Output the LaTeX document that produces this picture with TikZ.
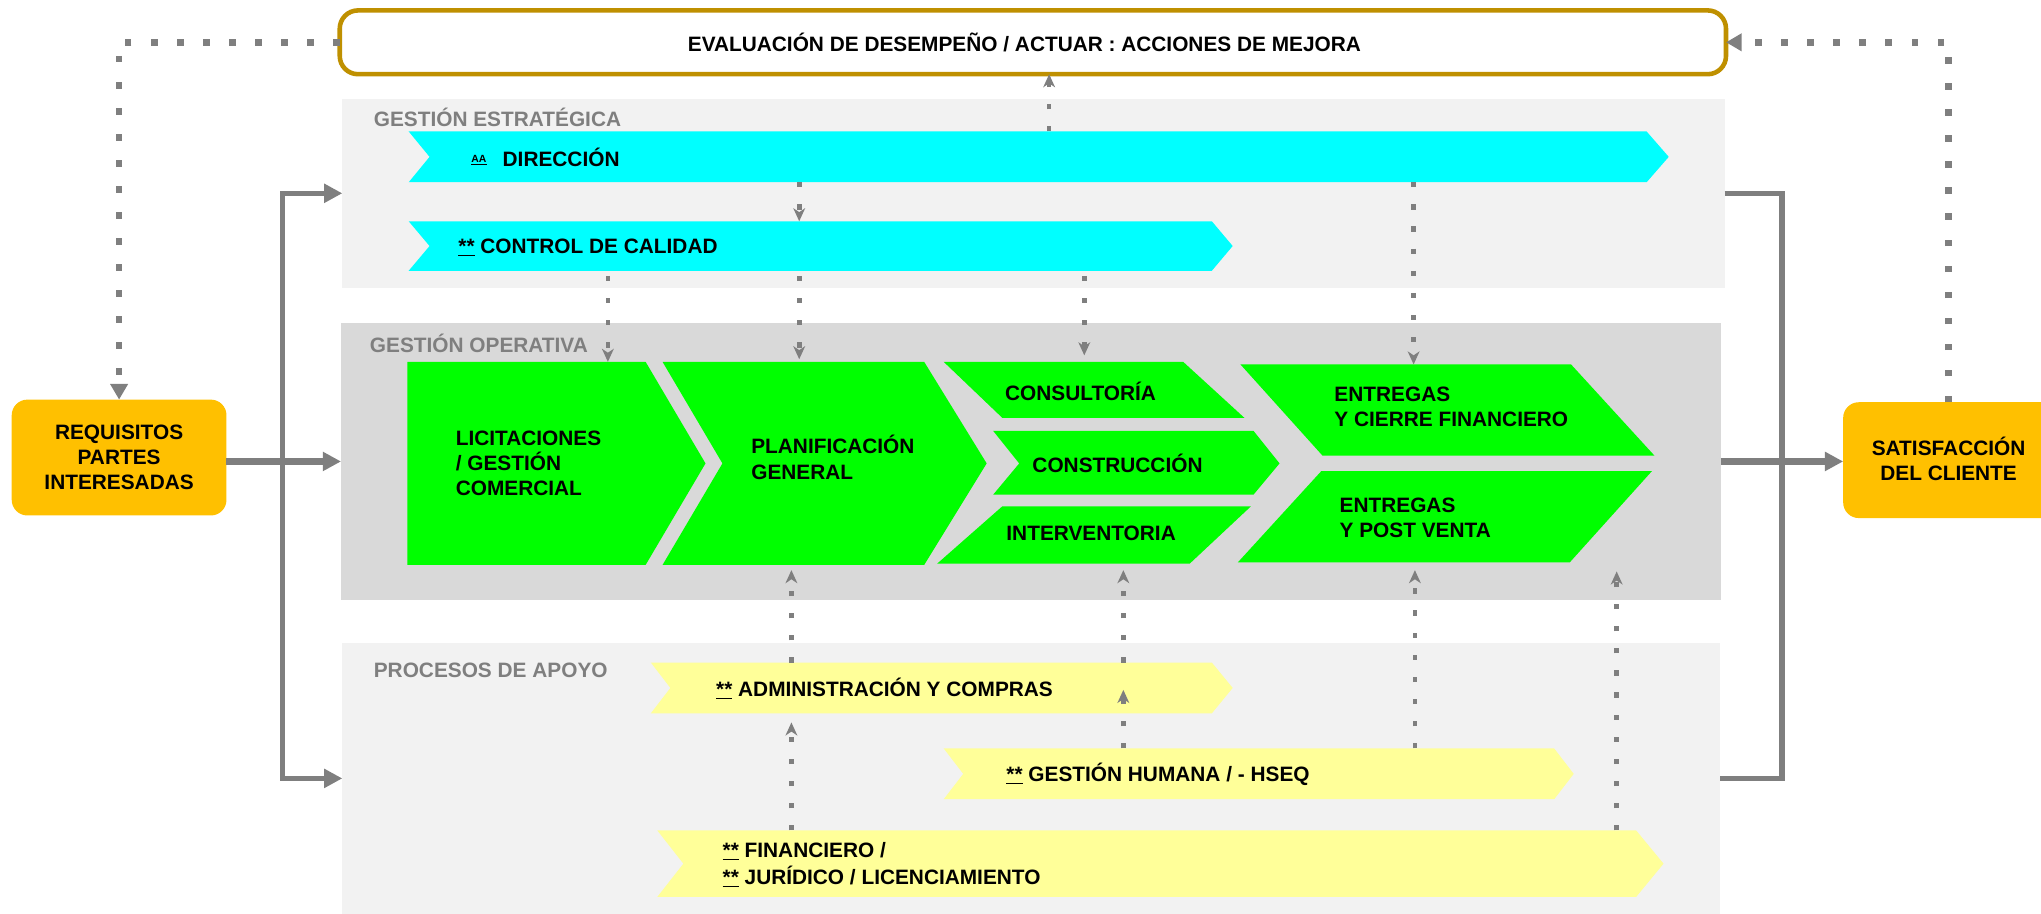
\documentclass[tikz,border=0pt]{standalone}
\usepackage{fontspec}
\setmainfont{Liberation Sans}
\usetikzlibrary{arrows.meta,fit,calc}
\definecolor{goldb}{HTML}{BF9000}
\definecolor{cyanb}{HTML}{00FFFF}
\definecolor{greenb}{HTML}{00FF00}
\definecolor{yellowb}{HTML}{FFFF99}
\definecolor{orangeb}{HTML}{FFC000}
\definecolor{bandlight}{HTML}{F2F2F2}
\definecolor{banddark}{HTML}{D9D9D9}
\definecolor{grayline}{HTML}{7F7F7F}
\begin{document}
\begin{tikzpicture}[x=1pt,y=-1pt,
  bb/.style={inner sep=0pt,outer sep=0pt,draw=none},
  txt/.style={font=\fontsize{16}{19.5}\selectfont\bfseries,inner sep=0pt,align=left,anchor=west,text=black},
  ctxt/.style={font=\fontsize{16}{19}\selectfont\bfseries,inner sep=0pt,align=center,text=black},
  glabel/.style={font=\fontsize{16}{18}\selectfont\bfseries,inner sep=0pt,anchor=west,text=grayline},
  odot/.style={draw=grayline,line width=5pt,dash pattern=on 5pt off 15pt,-{Triangle[length=12pt,width=13pt]}},
  idot/.style={draw=grayline,line width=3.5pt,dash pattern=on 4pt off 13pt,-{Stealth[length=10pt,width=9pt,inset=3pt]}},
  sarr/.style={draw=grayline,line width=5pt,-{Triangle[length=14pt,width=14pt]}},
  sline/.style={draw=grayline,line width=4pt},
]
\useasboundingbox (0,0) rectangle (1568,702);
\clip (0,0) rectangle (1568,702);

% ---------- top evaluation box
\draw[goldb,line width=3.5pt,rounded corners=14pt,fill=white] (261,8) rectangle (1326,57);
\node[bb,fit={(261,8)(1326,57)}] (ev) {};
\node[ctxt] (tev) at (787,32.5) {EVALUACIÓN DE DESEMPEÑO / ACTUAR : ACCIONES DE MEJORA};

% ---------- bands
\fill[bandlight] (263,76) rectangle (1325,221);
\node[bb,fit={(263,76)(1325,221)}] (est) {};
\fill[banddark] (262,248) rectangle (1322,461);
\node[bb,fit={(262,248)(1322,461)}] (op) {};
\fill[bandlight] (263,494) rectangle (1321,712);
\node[bb,fit={(263,494)(1321,702)}] (apo) {};

\node[glabel] (lest) at (287,90) {GESTIÓN ESTRATÉGICA};
\node[glabel] (lop) at (284,264) {GESTIÓN OPERATIVA};
\node[glabel] (lapo) at (287,515) {PROCESOS DE APOYO};

% ---------- strategic arrows
\fill[cyanb] (314,101) -- (1265,101) -- (1282,120.5) -- (1265,140) -- (314,140) -- (330,120.5) -- cycle;
\node[bb,fit={(314,101)(1282,140)}] (dir) {};
\node[inner sep=0pt,anchor=west,font=\fontsize{8}{9}\selectfont\bfseries] (taa) at (362,123) {\underline{AA}};
\node[txt] (tdir) at (386,121) {DIRECCIÓN};

\fill[cyanb] (314,170) -- (931,170) -- (947,189) -- (931,208) -- (314,208) -- (330,189) -- cycle;
\node[bb,fit={(314,170)(947,208)}] (cq) {};
\node[txt] (tcq) at (352,190) {\underline{**} CONTROL DE CALIDAD};

% ---------- operative shapes
\fill[greenb] (313,278) -- (496,278) -- (542,356) -- (496,434) -- (313,434) -- cycle;
\node[bb,fit={(313,278)(542,434)}] (lic) {};
\node[txt] (tlic) at (350,356) {LICITACIONES\\/ GESTIÓN\\COMERCIAL};

\fill[greenb] (509,278) -- (710,278) -- (758,356) -- (710,434) -- (509,434) -- (555,356) -- cycle;
\node[bb,fit={(509,278)(758,434)}] (plan) {};
\node[txt] (tplan) at (577,351.5) {PLANIFICACIÓN\\GENERAL};

\fill[greenb] (725,278) -- (909,278) -- (956,321) -- (770,321) -- cycle;
\node[bb,fit={(725,278)(956,321)}] (cons) {};
\node[txt] (tcons) at (772,301) {CONSULTORÍA};

\fill[greenb] (763,331) -- (963,331) -- (983,356) -- (963,380) -- (763,380) -- (783,356) -- cycle;
\node[bb,fit={(763,331)(983,380)}] (constr) {};
\node[txt] (tconstr) at (793,356) {CONSTRUCCIÓN};

\fill[greenb] (770,389) -- (961,389) -- (914,433) -- (720,433) -- cycle;
\node[bb,fit={(720,389)(961,433)}] (int) {};
\node[txt] (tint) at (773,410) {INTERVENTORIA};

\fill[greenb] (953,280) -- (1207,280) -- (1271,350) -- (1016,350) -- cycle;
\node[bb,fit={(953,280)(1271,350)}] (ent1) {};
\node[txt] (tent1) at (1025,312.5) {ENTREGAS\\Y CIERRE FINANCIERO};

\fill[greenb] (1015,362) -- (1269,362) -- (1206,432) -- (951,432) -- cycle;
\node[bb,fit={(951,362)(1269,432)}] (ent2) {};
\node[txt] (tent2) at (1029,398) {ENTREGAS\\Y POST VENTA};

% ---------- support shapes
\fill[yellowb] (500,509) -- (931,509) -- (947,528.5) -- (931,548) -- (500,548) -- (515,528.5) -- cycle;
\node[bb,fit={(500,509)(947,548)}] (adm) {};
\node[txt] (tadm) at (550,529) {\underline{**} ADMINISTRACIÓN Y COMPRAS};

\fill[yellowb] (725,575) -- (1194,575) -- (1209,594.5) -- (1194,614) -- (725,614) -- (740,594.5) -- cycle;
\node[bb,fit={(725,575)(1209,614)}] (gh) {};
\node[txt] (tgh) at (773,594.5) {\underline{**} GESTIÓN HUMANA / - HSEQ};

\fill[yellowb] (505,638) -- (1257,638) -- (1278,663.5) -- (1257,689) -- (505,689) -- (525,663.5) -- cycle;
\node[bb,fit={(505,638)(1278,689)}] (fin) {};
\node[txt,font=\fontsize{16}{21}\selectfont\bfseries] (tfin) at (555,664.5) {\underline{**} FINANCIERO /\\\underline{**} JURÍDICO / LICENCIAMIENTO};

% ---------- side boxes
\fill[orangeb,rounded corners=12pt] (9,307) rectangle (174,396);
\node[bb,fit={(9,307)(174,396)}] (req) {};
\node[ctxt] (treq) at (91.5,351.5) {REQUISITOS\\PARTES\\INTERESADAS};

\fill[orangeb,rounded corners=12pt] (1416,309) rectangle (1600,398);
\node[bb,fit={(1416,309)(1578,398)}] (sat) {};
\node[ctxt] (tsat) at (1497,352.5) {SATISFACCIÓN\\DEL CLIENTE};

% ---------- x positions of dotted connectors
\coordinate (vS) at (1497,0);
\coordinate (vB) at (806,0);
\coordinate (vA) at (614,0);
\coordinate (vL) at (467,0);
\coordinate (vC) at (833,0);
\coordinate (vE) at (1086,0);
\coordinate (vP) at (608,0);
\coordinate (vI) at (863,0);
\coordinate (vG) at (1087,0);
\coordinate (vF) at (1242,0);

% ---------- outer dotted feedback
\draw[odot] (ev.west) -| (req.north);
\draw[odot] (sat.north -| vS) |- (ev.east);

% ---------- inner dotted connectors
\draw[idot] (dir.north -| vB) -- (ev.south -| vB);
\draw[idot] (dir.south -| vA) -- (cq.north -| vA);
\draw[idot,shorten <=4pt] (cq.south -| vL) -- (lic.north -| vL);
\draw[idot,shorten <=4pt,shorten >=2pt] (cq.south -| vA) -- (plan.north -| vA);
\draw[idot,shorten <=4pt,shorten >=5pt] (cq.south -| vC) -- (cons.north -| vC);
\draw[idot] (dir.south -| vE) -- (ent1.north -| vE);

\draw[idot,shorten >=4pt] (adm.north -| vP) -- (plan.south -| vP);
\draw[idot,shorten >=7pt] (fin.north -| vP) -- (adm.south -| vP);
\draw[idot,shorten >=5pt] (adm.north -| vI) -- (int.south -| vI);
\draw[idot,shorten >=-18pt] (gh.north -| vI) -- (adm.south -| vI);
\draw[idot,shorten >=6pt] (gh.north -| vG) -- (ent2.south -| vG);
\draw[idot,shorten >=7pt] (fin.north -| vF) -- (ent2.south -| vF);

% ---------- solid flow arrows
\coordinate (busL) at (217,354.5);
\coordinate (busR) at (1369,354.5);
\draw[sarr,line width=4pt] (busL) |- (est.west);
\draw[sarr,line width=4pt] (busL) |- (apo.west);
\draw[sarr] (req.east |- op.west) -- (op.west);
\draw[sline] (est.east) -| (busR) |- (apo.east);
\draw[sarr] (op.east) -- (op.east -| sat.west);
\end{tikzpicture}
\end{document}
